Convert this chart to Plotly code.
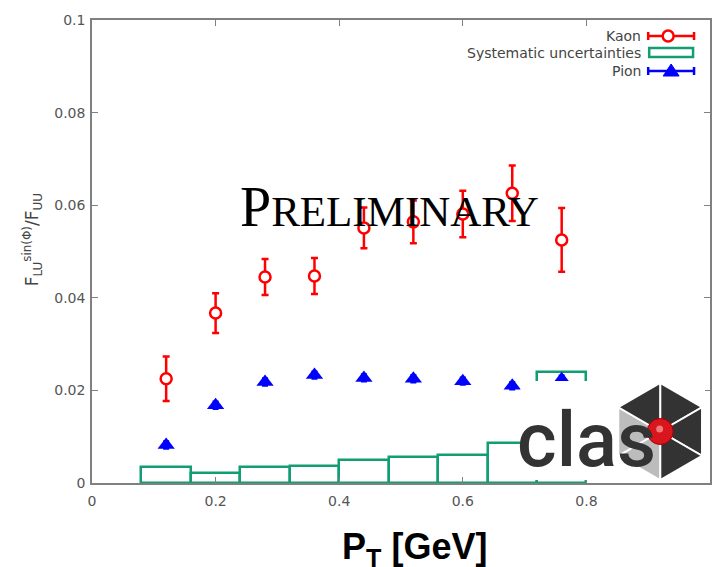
import math
import plotly.graph_objects as go

# Transverse-momentum bin centres and edges (GeV)
pt = [0.12, 0.20, 0.28, 0.36, 0.44, 0.52, 0.60, 0.68, 0.76]
bin_width = 0.08

# Beam-spin asymmetry F_LU^sin(phi)/F_UU
kaon = [0.0225, 0.0367, 0.0445, 0.0447, 0.0551, 0.0564, 0.0581, 0.0626, 0.0525]
kaon_err = [0.0048, 0.0043, 0.0039, 0.0039, 0.0044, 0.0046, 0.0050, 0.0060, 0.0069]
pion = [0.0082, 0.0168, 0.0218, 0.0233, 0.0227, 0.0225, 0.0220, 0.0210, 0.0224]
pion_err = [0.0008, 0.0008, 0.0008, 0.0008, 0.0008, 0.0008, 0.0008, 0.0008, 0.0008]
syst = [0.0034, 0.0022, 0.0035, 0.0036, 0.0050, 0.0056, 0.0060, 0.0087, 0.0240]

x_ticks = [0, 0.2, 0.4, 0.6, 0.8, 1.0]
y_ticks = [0, 0.02, 0.04, 0.06, 0.08, 0.1]

W, H = 714, 567
L, R, T, B = 92, 2, 20, 84
PW, PH = W - L - R, H - T - B

RED = "#ff0000"
BLUE = "#0000ff"
GREEN = "#119e73"
AXIS = "#808080"
TEXT = "#444444"


def px(x):
    return (x - L) / PW


def py(y):
    return (H - B - y) / PH


fig = go.Figure()

fig.add_trace(go.Bar(
    x=pt, y=syst, width=bin_width, base=0,
    marker=dict(color="rgba(0,0,0,0)", line=dict(color=GREEN, width=2.5)),
    name="Systematic uncertainties", showlegend=False,
))

fig.add_trace(go.Scatter(
    x=pt, y=kaon, mode="markers", name="Kaon", showlegend=False,
    error_y=dict(type="data", array=kaon_err, color=RED, thickness=2.5, width=3.5),
    marker=dict(symbol="circle", size=11, color="white", line=dict(color=RED, width=2.5)),
))

fig.add_trace(go.Scatter(
    x=pt, y=pion, mode="markers", name="Pion", showlegend=False,
    error_y=dict(type="data", array=pion_err, color=BLUE, thickness=2, width=3),
    marker=dict(symbol="triangle-up", size=15, color=BLUE),
))

shapes = []
annotations = []

# ---- key (text on the left, sample on the right) ----
key_font = dict(family="DejaVu Sans", size=14, color=TEXT)
for label, yk in [("Kaon", 36), ("Systematic uncertainties", 53), ("Pion", 71)]:
    annotations.append(dict(text=label, x=px(645), y=py(yk), xref="paper", yref="paper",
                            xanchor="right", yanchor="middle", showarrow=False, font=key_font))

for yk, col in [(36, RED), (71, BLUE)]:
    shapes.append(dict(type="line", xref="paper", yref="paper", x0=px(650), x1=px(696),
                       y0=py(yk), y1=py(yk), line=dict(color=col, width=2.5)))
    for xc in (650, 696):
        shapes.append(dict(type="line", xref="paper", yref="paper", x0=px(xc), x1=px(xc),
                           y0=py(yk - 4), y1=py(yk + 4), line=dict(color=col, width=2.5)))
shapes.append(dict(type="circle", xref="paper", yref="paper", x0=px(664.5), x1=px(675.5),
                   y0=py(41.5), y1=py(30.5), fillcolor="white", line=dict(color=RED, width=2.5)))
shapes.append(dict(type="rect", xref="paper", yref="paper", x0=px(651), x1=px(695),
                   y0=py(57), y1=py(48), line=dict(color=GREEN, width=2.5)))
shapes.append(dict(type="path", xref="paper", yref="paper",
                   path=f"M{px(665)},{py(76)} L{px(681)},{py(76)} L{px(673)},{py(64)} Z",
                   fillcolor=BLUE, line=dict(color=BLUE, width=1)))

# ---- CLAS logo ----
shapes.append(dict(type="rect", xref="paper", yref="paper", layer="above",
                   x0=px(522), x1=px(707), y0=py(480), y1=py(381),
                   fillcolor="white", line=dict(width=0)))
cx, cy, rad = 662, 431.5, 48.5
verts = [(cx + rad * math.cos(math.radians(a)), cy - rad * math.sin(math.radians(a)))
         for a in (90, 30, -30, -90, -150, 150)]
sector_cols = ["#333333", "#333333", "#333333", "#bcbcbc", "#bcbcbc", "#333333"]
for i in range(6):
    (x1, y1), (x2, y2) = verts[i], verts[(i + 1) % 6]
    shapes.append(dict(type="path", xref="paper", yref="paper", layer="above",
                       path=f"M{px(cx)},{py(cy)} L{px(x1)},{py(y1)} L{px(x2)},{py(y2)} Z",
                       fillcolor=sector_cols[i], line=dict(color="white", width=2)))
shapes.append(dict(type="circle", xref="paper", yref="paper", layer="above",
                   x0=px(cx - 13), x1=px(cx + 13), y0=py(cy + 13), y1=py(cy - 13),
                   fillcolor="#d9151e", line=dict(color="#a00", width=1)))
shapes.append(dict(type="circle", xref="paper", yref="paper", layer="above",
                   x0=px(cx - 4), x1=px(cx + 3), y0=py(cy + 1), y1=py(cy - 6),
                   fillcolor="#f27a7a", line=dict(width=0)))
annotations.append(dict(text="clas", x=px(588), y=py(440), xref="paper", yref="paper",
                        xanchor="center", yanchor="middle", showarrow=False,
                        font=dict(family="Roboto", size=76, color="#333333", weight=500)))

# ---- watermark ----
annotations.append(dict(text='<span style="font-size:56px">P</span>RELIMINARY',
                        x=px(390), y=py(207), xref="paper", yref="paper",
                        xanchor="center", yanchor="middle", showarrow=False,
                        font=dict(family="Liberation Serif", size=43, color="black")))

# ---- axis titles ----
annotations.append(dict(text="F<sub>LU</sub><sup>sin(Φ)</sup>/F<sub>UU</sub>",
                        x=px(32), y=py(240), xref="paper", yref="paper", textangle=-90,
                        xanchor="center", yanchor="middle", showarrow=False,
                        font=dict(family="DejaVu Sans", size=17, color=TEXT)))
annotations.append(dict(text="<b>P<sub>T</sub> [GeV]</b>", x=px(416), y=py(549),
                        xref="paper", yref="paper", xanchor="center", yanchor="middle",
                        showarrow=False, height=58, valign="middle",
                        font=dict(family="Liberation Sans", size=36, color="black")))

axis_common = dict(showline=True, linecolor=AXIS, linewidth=1.5, mirror="ticks",
                   ticks="inside", ticklen=6, tickcolor=AXIS, tickwidth=1,
                   showgrid=False, zeroline=False,
                   tickfont=dict(family="DejaVu Sans", size=14, color="#555555"))

fig.update_layout(
    width=W, height=H,
    margin=dict(l=L, r=R, t=T, b=B, pad=0),
    paper_bgcolor="white", plot_bgcolor="white",
    xaxis=dict(range=[0, 1], tickvals=x_ticks, ticktext=["0", "0.2", "0.4", "0.6", "0.8", "1"],
               ticklabelstandoff=4, **axis_common),
    yaxis=dict(range=[0, 0.1], tickvals=y_ticks,
               ticktext=["0", "0.02", "0.04", "0.06", "0.08", "0.1"],
               ticklabelstandoff=2, **axis_common),
    shapes=shapes, annotations=annotations, showlegend=False, bargap=0,
)

fig.write_html("out.html")
